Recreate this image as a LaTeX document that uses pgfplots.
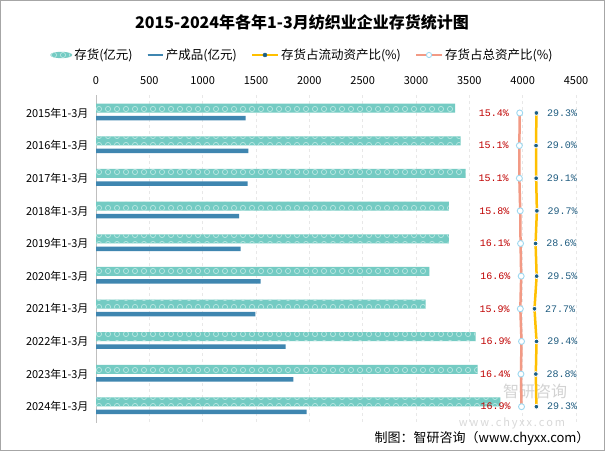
\documentclass[border=0pt]{standalone}
\usepackage{pgfplots}
\pgfplotsset{compat=1.18}
\usepackage{pgfplotstable}
\usepackage{fontspec}
\setmainfont{Noto Sans CJK SC}
\setmonofont{Liberation Mono}
\usetikzlibrary{patterns.meta}
\definecolor{invteal}{HTML}{74CBC3}
\definecolor{ringc}{HTML}{B8E6E1}
\definecolor{prodblue}{HTML}{3F86B0}
\definecolor{goldc}{HTML}{FFC000}
\definecolor{salmon}{HTML}{F29A85}
\definecolor{ltblue}{HTML}{9ED8F0}
\definecolor{dotblue}{HTML}{1B5E85}
\definecolor{labred}{HTML}{C00000}
\definecolor{labblue}{HTML}{1F5C80}
\tikzdeclarepattern{
  name=rings, type=uncolored,
  bounding box={(-4.5pt,-4.5pt) and (4.5pt,4.5pt)},
  tile size={(9pt,9pt)},
  code={\draw[line width=0.7pt] (0,0) circle (2.6pt);}
}
\pgfplotstableread{
i inv prod cur tot
0 3366 1403 29.3 15.4
1 3419 1428 29.0 15.1
2 3466 1422 29.1 15.1
3 3309 1341 29.7 15.8
4 3309 1356 28.6 16.1
5 3125 1544 29.5 16.6
6 3091 1494 27.7 15.9
7 3559 1778 29.4 16.9
8 3578 1850 28.8 16.4
9 3790 1975 29.3 16.9
}\data
\begin{document}
\begin{tikzpicture}[x=1pt,y=1pt]
\fill[white] (0,0) rectangle (605,451);
\draw[draw=gray!70, line width=0.8pt] (0.4,0.4) rectangle (604.6,450.6);
\node[font=\bfseries\fontsize{16}{18}\selectfont] at (302,429) {2015-2024年各年1-3月纺织业企业存货统计图};
\begin{axis}[
  at={(96pt,28pt)}, anchor=south west,
  scale only axis, width=480pt, height=328pt,
  xmin=0, xmax=4500, ymin=-0.55, ymax=9.5, y dir=reverse,
  xtick={0,500,...,4500},
  ytick={0,...,9},
  yticklabels={2015年1-3月,2016年1-3月,2017年1-3月,2018年1-3月,2019年1-3月,2020年1-3月,2021年1-3月,2022年1-3月,2023年1-3月,2024年1-3月},
  axis x line*=top, axis y line*=left,
  x axis line style={draw=none}, y axis line style={draw=gray!50},
  major tick length=0pt,
  xmajorgrids, grid style={gray!18, dashed},
  tick label style={font=\fontsize{11}{13}\selectfont},
  xticklabel style={yshift=6.5pt},
  yticklabel style={xshift=-4pt},
  /pgf/number format/assume math mode=true,
  /pgf/number format/1000 sep={},
  legend style={at={(0.43,1.122)}, anchor=center, draw=none, fill=none,
    font=\fontsize{12.5}{14}\selectfont, legend columns=4,
    /tikz/every even column/.append style={column sep=12pt}},
]
\addplot[xbar, bar width=9pt, bar shift=0pt, fill=invteal, draw=none,
  postaction={pattern=rings, pattern color=ringc},
  legend image code/.code={\fill[invteal] (0.3cm,0pt) ellipse (11pt and 3.2pt);}]
  table[x=inv, y expr=\thisrow{i}-0.145] {\data};
\addlegendentry{存货(亿元)}
\addplot[xbar, bar width=4.5pt, bar shift=0pt, fill=prodblue, draw=none,
  legend image code/.code={\draw[prodblue, line width=1.6pt] (0.05cm,0pt) -- (0.6cm,0pt);}]
  table[x=prod, y expr=\thisrow{i}+0.162] {\data};
\addlegendentry{产成品(亿元)}
\addlegendimage{legend image code/.code={\draw[goldc, line width=2.5pt] (0cm,0pt) -- (0.9cm,0pt); \fill[dotblue] (0.45cm,0pt) circle (2pt);}}
\addlegendentry{存货占流动资产比(\%)}
\addlegendimage{legend image code/.code={\draw[salmon, line width=2.5pt] (0cm,0pt) -- (0.9cm,0pt); \draw[ltblue, fill=white, line width=0.9pt] (0.45cm,0pt) circle (2.6pt);}}
\addlegendentry{存货占总资产比(\%)}
\end{axis}
\node[text=gray, opacity=0.35, font=\fontsize{16}{17}\selectfont] at (535,60) {智研咨询};
\begin{axis}[
  at={(96pt,28pt)}, anchor=south west,
  scale only axis, width=480pt, height=328pt,
  xmin=-337.7, xmax=62.3, ymin=-0.55, ymax=9.5, y dir=reverse,
  hide axis, clip=false,
  /pgf/number format/assume math mode=true,
]
\addplot[salmon, line width=2.5pt, mark=*, mark size=3pt,
  mark options={fill=white, draw=ltblue, line width=0.9pt},
  point meta=x,
  nodes near coords={\pgfmathprintnumber[fixed,fixed zerofill,precision=1]{\pgfplotspointmeta}\%},
  every node near coord/.append style={anchor=east, xshift=-7pt, text=labred, font=\ttfamily\fontsize{10}{12}\selectfont}]
  table[x=tot, y=i] {\data};
\addplot[goldc, line width=2.5pt, mark=*, mark size=2.4pt,
  mark options={fill=dotblue, draw=white, line width=0.8pt},
  point meta=x,
  nodes near coords={\pgfmathprintnumber[fixed,fixed zerofill,precision=1]{\pgfplotspointmeta}\%},
  every node near coord/.append style={anchor=west, xshift=7pt, text=labblue, font=\ttfamily\fontsize{10}{12}\selectfont}]
  table[x=cur, y=i] {\data};
\end{axis}
\node[text=gray, opacity=0.3, font=\fontsize{11}{12}\selectfont] at (512,28) {w\,w\,w\,.\,c\,h\,y\,x\,x\,.\,c\,o\,m};
\node[anchor=east, font=\fontsize{13}{15}\selectfont] at (593,13) {制图：智研咨询（www.chyxx.com）};
\end{tikzpicture}
\end{document}
